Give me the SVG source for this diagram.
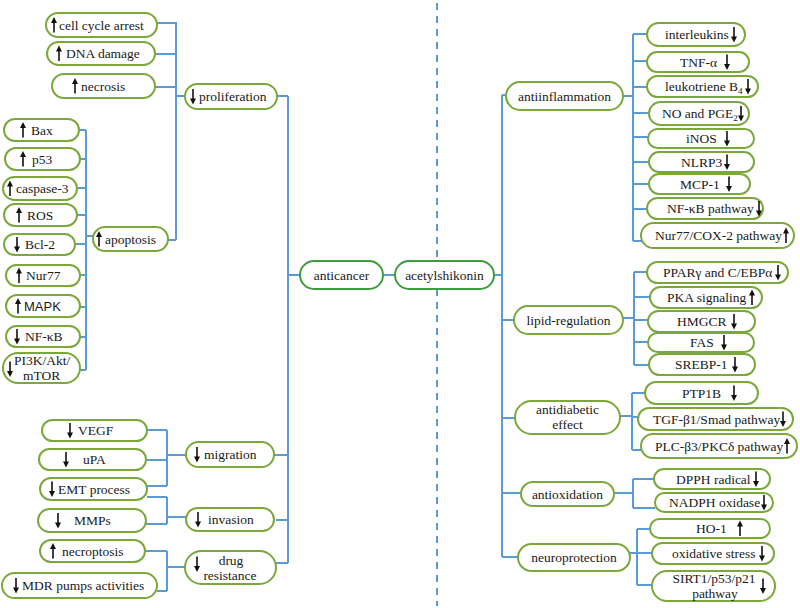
<svg xmlns="http://www.w3.org/2000/svg" xmlns:xlink="http://www.w3.org/1999/xlink" width="800" height="608" viewBox="0 0 800 608">
<defs>
<style>
.b{fill:#fff;stroke:#7aa83a;stroke-width:2}
.c{fill:#fff;stroke:#3e9c3e;stroke-width:2}
.t{font-family:"Liberation Serif","Times New Roman",serif;font-size:13.5px;fill:#1a1a1a}
.s{font-family:"Liberation Sans",Arial,sans-serif;font-size:13px;fill:#1a1a1a}
.m{text-anchor:middle}
.ln{fill:none;stroke:#5b9bd5;stroke-width:2}
.dash{fill:none;stroke:#5b9bd5;stroke-width:2;stroke-dasharray:7 6}
.sub{font-size:9px}
</style>
<g id="up"><line x1="0" y1="7.5" x2="0" y2="-3" stroke="#111" stroke-width="1.6"/><path d="M-3,-2 L0,-8 L3,-2 Z" fill="#111"/></g>
<g id="dn"><line x1="0" y1="-7.5" x2="0" y2="3" stroke="#111" stroke-width="1.6"/><path d="M-3,2 L0,8 L3,2 Z" fill="#111"/></g>
</defs>
<rect width="800" height="608" fill="#fff"/>
<line class="dash" x1="437" y1="3" x2="437" y2="606"/>
<g id="connectors">
<path class="ln" d="M157,23H176M155,54H176M155,87H176M176,22V240M176,96H185M168,240H176"/>
<path class="ln" d="M79,130H86M80,159H86M77,188H86M77,215H86M75,244H86M80,275H86M80,307H86M80,337H86M80,370H86M86,130V370M86,236H93"/>
<path class="ln" d="M277,96H288M288,96V563M288,275H300M274,455H288M276,520H288M276,563H288"/>
<path class="ln" d="M147,430H167M146,460H167M147,486H167M167,430V486M167,455H186"/>
<path class="ln" d="M147,497H167M146,524H167M167,497V524M167,517H186"/>
<path class="ln" d="M145,551H167M157,591H167M167,551V591M167,567H185"/>
<path class="ln" d="M383,275H395M494,275H502M502,95V557M502,95H506M502,320H514M502,418H515M502,493H521M502,557H518"/>
<path class="ln" d="M623,96H633M633,34V241M633,34H647M633,61H647M633,87H647M633,113H649M633,137H648M633,162H649M633,184H649M633,209H647M633,241H642"/>
<path class="ln" d="M623,318H634M634,272V365M634,272H647M634,297H650M634,320H648M634,342H648M634,365H649"/>
<path class="ln" d="M620,416H632M632,393V450M632,393H645M632,417H638M632,450H641"/>
<path class="ln" d="M614,493H633M633,479V508M633,479H654M633,508H655"/>
<path class="ln" d="M630,553H637M637,529V585M637,529H650M637,553H652M637,585H652"/>
</g>

<g id="n-cellcycle"><rect class="b" x="46" y="13" width="111" height="24" rx="12"/><use href="#up" x="54" y="25"/><text class="t" x="59" y="29.5">cell cycle arrest</text></g>
<g id="n-dna"><rect class="b" x="47" y="42" width="108" height="23" rx="11.5"/><use href="#up" x="59" y="53.5"/><text class="t" x="66" y="58">DNA damage</text></g>
<g id="n-necrosis"><rect class="b" x="52" y="74" width="103" height="24" rx="12"/><use href="#up" x="75" y="86"/><text class="t" x="81" y="90.5">necrosis</text></g>
<g id="n-proliferation"><rect class="b" x="185" y="84" width="92" height="25" rx="12.5"/><use href="#dn" x="193" y="96.5"/><text class="t" x="199" y="101">proliferation</text></g>

<g id="n-bax"><rect class="b" x="4" y="119" width="75" height="22" rx="11"/><use href="#up" x="23" y="130"/><text class="t" x="31" y="134.5">Bax</text></g>
<g id="n-p53"><rect class="b" x="5" y="148" width="75" height="22" rx="11"/><use href="#up" x="23" y="159"/><text class="t" x="32" y="163.5">p53</text></g>
<g id="n-casp"><rect class="b" x="3" y="177" width="74" height="23" rx="11.5"/><use href="#up" x="10" y="188.5"/><text class="t" x="16" y="193">caspase-3</text></g>
<g id="n-ros"><rect class="b" x="4" y="204" width="73" height="22" rx="11"/><use href="#up" x="19" y="215"/><text class="t" x="27" y="219.5">ROS</text></g>
<g id="n-bcl2"><rect class="b" x="4" y="234" width="71" height="21" rx="10.5"/><use href="#dn" x="17" y="244.5"/><text class="t" x="25" y="249">Bcl-2</text></g>
<g id="n-nur77"><rect class="b" x="6" y="265" width="74" height="21" rx="10.5"/><use href="#up" x="19" y="275.5"/><text class="t" x="26" y="280">Nur77</text></g>
<g id="n-mapk"><rect class="b" x="6" y="295" width="74" height="22" rx="11"/><use href="#up" x="18" y="306"/><text class="s" x="24" y="310.5">MAPK</text></g>
<g id="n-nfkb"><rect class="b" x="6" y="326" width="74" height="21" rx="10.5"/><use href="#dn" x="17" y="336.5"/><text class="t" x="25" y="341">NF-κB</text></g>
<g id="n-pi3k"><rect class="b" x="3" y="353" width="77" height="30" rx="15"/><use href="#dn" x="10" y="369"/><text class="t" x="14" y="364.5">PI3K/Akt/</text><text class="t" x="23" y="379.5">mTOR</text></g>
<g id="n-apoptosis"><rect class="b" x="93" y="227" width="75" height="24" rx="12"/><use href="#up" x="99" y="239"/><text class="t" x="105" y="243.5">apoptosis</text></g>

<g id="n-vegf"><rect class="b" x="42" y="420" width="105" height="21" rx="10.5"/><use href="#dn" x="70" y="430.5"/><text class="t" x="78" y="435">VEGF</text></g>
<g id="n-upa"><rect class="b" x="39" y="449" width="107" height="21" rx="10.5"/><use href="#dn" x="66" y="459.5"/><text class="t" x="83" y="464">uPA</text></g>
<g id="n-emt"><rect class="b" x="40" y="478" width="107" height="22" rx="11"/><use href="#dn" x="52" y="489"/><text class="t" x="58" y="493.5">EMT process</text></g>
<g id="n-mmps"><rect class="b" x="38" y="509" width="108" height="23" rx="11.5"/><use href="#dn" x="58" y="520.5"/><text class="t" x="74" y="525">MMPs</text></g>
<g id="n-necroptosis"><rect class="b" x="40" y="540" width="105" height="22" rx="11"/><use href="#up" x="53" y="551"/><text class="t" x="62" y="555.5">necroptosis</text></g>
<g id="n-mdr"><rect class="b" x="2" y="573" width="155" height="25" rx="12.5"/><use href="#dn" x="16" y="585.5"/><text class="t" x="22" y="590">MDR pumps activities</text></g>
<g id="n-migration"><rect class="b" x="186" y="442" width="88" height="25" rx="12.5"/><use href="#dn" x="197" y="454.5"/><text class="t" x="204" y="459">migration</text></g>
<g id="n-invasion"><rect class="b" x="186" y="508" width="88" height="23" rx="11.5"/><use href="#dn" x="198" y="519.5"/><text class="t" x="208" y="524">invasion</text></g>
<g id="n-drug"><rect class="b" x="185" y="551" width="91" height="33" rx="16.5"/><use href="#dn" x="197" y="564"/><text class="t m" x="231" y="565">drug</text><text class="t m" x="230" y="580">resistance</text></g>

<g id="n-anticancer"><rect class="c" x="300" y="261" width="83" height="28" rx="14"/><text class="t m" x="341.5" y="279.5">anticancer</text></g>
<g id="n-acetylshikonin"><rect class="c" x="395" y="261" width="99" height="28" rx="14"/><text class="t m" x="444.5" y="279.5">acetylshikonin</text></g>

<g id="n-antiinflammation"><rect class="b" x="506" y="82" width="117" height="28" rx="14"/><text class="t m" x="564.5" y="100.5">antiinflammation</text></g>
<g id="n-interleukins"><rect class="b" x="647" y="23" width="98" height="23" rx="11.5"/><text class="t" x="665" y="39">interleukins</text><use href="#dn" x="734" y="34.5"/></g>
<g id="n-tnf"><rect class="b" x="647" y="52" width="102" height="20" rx="10"/><text class="t" x="680" y="66.5">TNF-α</text><use href="#dn" x="727" y="62"/></g>
<g id="n-ltb4"><rect class="b" x="647" y="76" width="111" height="21" rx="10.5"/><text class="t" x="665" y="91">leukotriene B<tspan class="sub" dy="3">4</tspan></text><use href="#dn" x="748" y="86.5"/></g>
<g id="n-nopge2"><rect class="b" x="649" y="102" width="100" height="23" rx="11.5"/><text class="t" x="662" y="118">NO and PGE<tspan class="sub" dy="3">2</tspan></text><use href="#dn" x="741" y="113.5"/></g>
<g id="n-inos"><rect class="b" x="648" y="129" width="106" height="19" rx="9.5"/><text class="t" x="686" y="143">iNOS</text><use href="#dn" x="727" y="138.5"/></g>
<g id="n-nlrp3"><rect class="b" x="649" y="152" width="105" height="20" rx="10"/><text class="t" x="681" y="166.5">NLRP3</text><use href="#dn" x="727" y="162"/></g>
<g id="n-mcp1"><rect class="b" x="649" y="174" width="101" height="20" rx="10"/><text class="t" x="680" y="188.5">MCP-1</text><use href="#dn" x="729" y="184"/></g>
<g id="n-nfkbpw"><rect class="b" x="647" y="198" width="116" height="21" rx="10.5"/><text class="t" x="667" y="213">NF-κB pathway</text><use href="#dn" x="759" y="208.5"/></g>
<g id="n-nur77cox2"><rect class="b" x="641" y="223" width="153" height="25" rx="12.5"/><text class="t" x="655" y="240">Nur77/COX-2 pathway</text><use href="#up" x="786" y="235.5"/></g>

<g id="n-lipid"><rect class="b" x="514" y="306" width="109" height="28" rx="14"/><text class="t m" x="568.5" y="324.5">lipid-regulation</text></g>
<g id="n-ppar"><rect class="b" x="647" y="262" width="141" height="21" rx="10.5"/><text class="t" x="663" y="277">PPARγ and C/EBPα</text><use href="#dn" x="778" y="272.5"/></g>
<g id="n-pka"><rect class="b" x="650" y="287" width="112" height="21" rx="10.5"/><text class="t" x="667" y="302">PKA signaling</text><use href="#up" x="752" y="297.5"/></g>
<g id="n-hmgcr"><rect class="b" x="648" y="311" width="107" height="21" rx="10.5"/><text class="t" x="677" y="326">HMGCR</text><use href="#dn" x="734" y="321.5"/></g>
<g id="n-fas"><rect class="b" x="648" y="333" width="106" height="19" rx="9.5"/><text class="t" x="690" y="347">FAS</text><use href="#dn" x="724" y="342.5"/></g>
<g id="n-srebp"><rect class="b" x="649" y="354" width="106" height="21" rx="10.5"/><text class="t" x="675" y="369">SREBP-1</text><use href="#dn" x="735" y="364.5"/></g>

<g id="n-antidiabetic"><rect class="b" x="515" y="401" width="105" height="33" rx="16.5"/><text class="t m" x="567.5" y="413.5">antidiabetic</text><text class="t m" x="567.5" y="428.5">effect</text></g>
<g id="n-ptp1b"><rect class="b" x="645" y="382" width="113" height="22" rx="11"/><text class="t" x="682" y="397.5">PTP1B</text><use href="#dn" x="734" y="393"/></g>
<g id="n-tgf"><rect class="b" x="638" y="408" width="155" height="22" rx="11"/><text class="t" x="653" y="423.5">TGF-β1/Smad pathway</text><use href="#dn" x="783" y="419"/></g>
<g id="n-plc"><rect class="b" x="641" y="434" width="156" height="24" rx="12"/><text class="t" x="655" y="450.5">PLC-β3/PKCδ pathway</text><use href="#up" x="787" y="446"/></g>

<g id="n-antioxidation"><rect class="b" x="521" y="482" width="93" height="24" rx="12"/><text class="t m" x="567.5" y="498.5">antioxidation</text></g>
<g id="n-dpph"><rect class="b" x="654" y="469" width="116" height="20" rx="10"/><text class="t" x="676" y="483.5">DPPH radical</text><use href="#dn" x="756" y="479"/></g>
<g id="n-nadph"><rect class="b" x="655" y="493" width="118" height="19" rx="9.5"/><text class="t" x="669" y="507">NADPH oxidase</text><use href="#dn" x="764" y="502.5"/></g>

<g id="n-neuro"><rect class="b" x="518" y="544" width="112" height="27" rx="13.5"/><text class="t m" x="574" y="562">neuroprotection</text></g>
<g id="n-ho1"><rect class="b" x="650" y="519" width="120" height="19" rx="9.5"/><text class="t" x="696" y="533">HO-1</text><use href="#up" x="740" y="528.5"/></g>
<g id="n-oxstress"><rect class="b" x="652" y="543" width="122" height="21" rx="10.5"/><text class="t" x="672" y="558">oxidative stress</text><use href="#dn" x="762" y="553.5"/></g>
<g id="n-sirt1"><rect class="b" x="652" y="571" width="123" height="30" rx="15"/><text class="t m" x="714" y="582.5">SIRT1/p53/p21</text><text class="t m" x="715" y="597.5">pathway</text><use href="#dn" x="763" y="586"/></g>
</svg>
